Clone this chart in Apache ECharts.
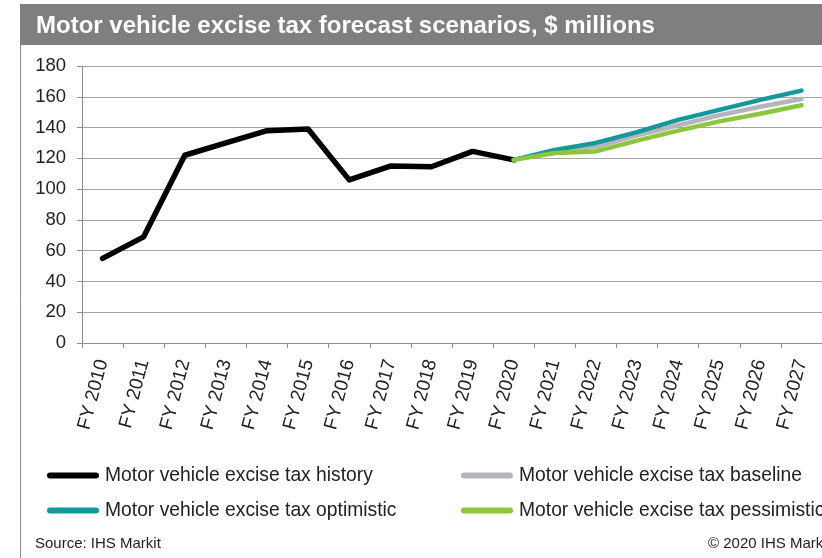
<!DOCTYPE html>
<html>
<head>
<meta charset="utf-8">
<script src="https://cdn.jsdelivr.net/npm/echarts@6/dist/echarts.min.js"></script>
<style>
  html, body { margin: 0; padding: 0; background: #ffffff; }
  #chart { width: 822px; height: 558px; }
</style>
</head>
<body>
<div id="chart"></div>
<script>
// Fiscal years on the category axis
const categories = ['FY 2010', 'FY 2011', 'FY 2012', 'FY 2013', 'FY 2014', 'FY 2015',
  'FY 2016', 'FY 2017', 'FY 2018', 'FY 2019', 'FY 2020', 'FY 2021', 'FY 2022',
  'FY 2023', 'FY 2024', 'FY 2025', 'FY 2026', 'FY 2027'];

// Actual collections, FY 2010 - FY 2020 ($ millions)
const history = [55, 69, 122, 130, 138, 139, 106, 115, 114.5, 124.5, 119];

// Forecast scenarios, FY 2020 - FY 2027 ($ millions)
const baseline    = [119, 124.5, 127.5, 135, 141.5, 148, 153.5, 158.5];
const optimistic  = [119, 125.5, 130, 137, 145, 151.5, 158, 164];
const pessimistic = [119, 123.5, 124.5, 131.5, 138, 144, 149, 154.5];

// Value axis ticks
const yTicks = [0, 20, 40, 60, 80, 100, 120, 140, 160, 180];

const seriesNames = {
  history: 'Motor vehicle excise tax history',
  baseline: 'Motor vehicle excise tax baseline',
  optimistic: 'Motor vehicle excise tax optimistic',
  pessimistic: 'Motor vehicle excise tax pessimistic'
};
const colors = {
  history: '#000000',
  baseline: '#b5b5bb',
  optimistic: '#14999b',
  pessimistic: '#8cc63f'
};

const FONT = "'Liberation Sans', Arial, Helvetica, sans-serif";

// Forecasts start where the history ends (FY 2020)
const forecastOffset = history.length - 1;
const padHistory = history.concat(new Array(categories.length - history.length).fill(null));
const padForecast = arr => new Array(forecastOffset).fill(null).concat(arr);

function lineSeries(key, data, width) {
  return {
    name: seriesNames[key],
    type: 'line',
    data: data,
    symbol: 'none',
    connectNulls: false,
    itemStyle: { color: colors[key] },
    lineStyle: { color: colors[key], width: width, cap: 'round', join: 'round' },
    emphasis: { disabled: true }
  };
}

const legendIcon = 'path://M3,0L49,0A3,3,0,0,1,49,6L3,6A3,3,0,0,1,3,0Z';
const legendBase = {
  orient: 'vertical',
  icon: legendIcon,
  itemWidth: 54,
  itemHeight: 6,
  itemGap: 14,
  itemTextGap: 0,
  padding: 0,
  selectedMode: false,
  textStyle: { fontFamily: FONT, fontSize: 19.3, lineHeight: 21, color: '#222222' }
};

const chart = echarts.init(document.getElementById('chart'), null, { renderer: 'canvas' });

chart.setOption({
  animation: false,
  backgroundColor: '#ffffff',
  textStyle: { fontFamily: FONT },
  graphic: [
    { type: 'rect', left: 20, top: 4, shape: { width: 802, height: 41 },
      style: { fill: '#7f7f7f' }, silent: true },
    { type: 'line', shape: { x1: 20.5, y1: 45, x2: 20.5, y2: 558 },
      style: { stroke: '#8c8c8c', lineWidth: 1 }, silent: true },
    { type: 'text', left: 36, top: 14,
      style: { text: 'Motor vehicle excise tax forecast scenarios, $ millions',
               fill: '#ffffff', font: 'bold 24px ' + FONT }, silent: true },
    { type: 'text', left: 35, top: 536,
      style: { text: 'Source: IHS Markit', fill: '#222222', font: '15px ' + FONT }, silent: true },
    { type: 'text', left: 708, top: 536,
      style: { text: '\u00a9 2020 IHS Markit', fill: '#222222', font: '15px ' + FONT }, silent: true }
  ],
  grid: { left: 82, top: 66, width: 745, height: 277, containLabel: false },
  xAxis: {
    type: 'category',
    data: categories,
    boundaryGap: true,
    axisLine: { show: true, lineStyle: { color: '#8c8c8c', width: 1 } },
    axisTick: { show: true, length: 5, alignWithLabel: false, lineStyle: { color: '#8c8c8c' } },
    axisLabel: { rotate: 75, margin: 17, fontSize: 19, color: '#222222', interval: 0, fontFamily: FONT },
    splitLine: { show: false }
  },
  yAxis: {
    type: 'value',
    min: yTicks[0],
    max: yTicks[yTicks.length - 1],
    interval: yTicks[1] - yTicks[0],
    axisLine: { show: true, lineStyle: { color: '#8c8c8c', width: 1 } },
    axisTick: { show: true, length: 5, inside: false, lineStyle: { color: '#8c8c8c' } },
    axisLabel: { margin: 16, fontSize: 18.5, color: '#222222', fontFamily: FONT },
    splitLine: { show: true, lineStyle: { color: '#a6a6a6', width: 1 } }
  },
  legend: [
    Object.assign({}, legendBase, { left: 47, top: 465,
      data: [seriesNames.history, seriesNames.optimistic] }),
    Object.assign({}, legendBase, { left: 461, top: 465,
      data: [seriesNames.baseline, seriesNames.pessimistic] })
  ],
  series: [
    lineSeries('history', padHistory, 5.5),
    lineSeries('baseline', padForecast(baseline), 4.5),
    lineSeries('optimistic', padForecast(optimistic), 4.5),
    lineSeries('pessimistic', padForecast(pessimistic), 4.5)
  ]
});
</script>
</body>
</html>
